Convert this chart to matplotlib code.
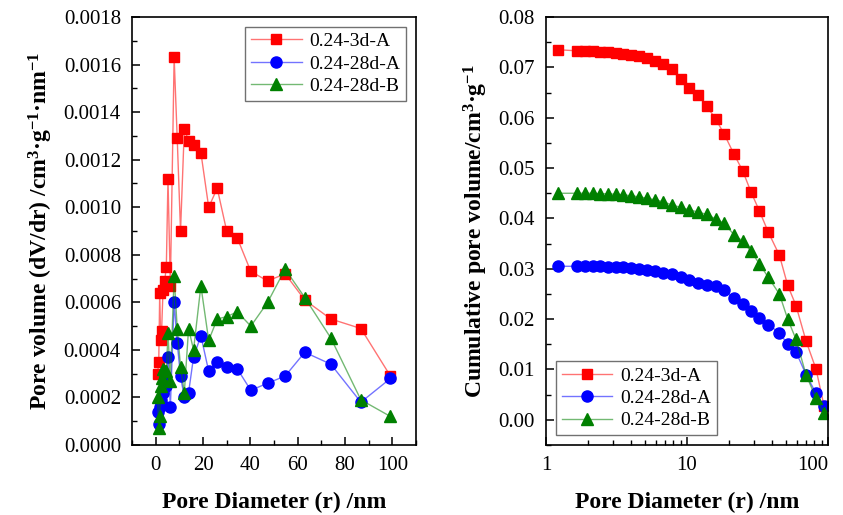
import matplotlib
matplotlib.use("Agg")
import matplotlib.pyplot as plt
from matplotlib.ticker import MultipleLocator, FormatStrFormatter, FixedLocator, FixedFormatter

plt.rcParams["font.family"] = ["Liberation Serif", "DejaVu Serif"]
plt.rcParams["mathtext.fontset"] = "custom"
plt.rcParams["mathtext.rm"] = "Liberation Serif:bold"
plt.rcParams["mathtext.default"] = "rm"

# ---- left: pore size distribution dV/dr ----
r_dist = [0.8, 1.3, 1.7, 2.1, 2.5, 3.1, 3.8, 4.5, 5.2, 6.2, 7.8, 9.1, 10.5, 12.1,
          13.9, 16.0, 19.1, 22.4, 26.0, 30.0, 34.5, 40.2, 47.3, 54.7, 63.0, 74.0,
          86.7, 99.2]
dv_3dA = [0.00030, 0.00035, 0.00064, 0.00044, 0.00048, 0.00065, 0.00069, 0.00075,
          0.00112, 0.00067, 0.00163, 0.00129, 0.00090, 0.00133, 0.00128, 0.00126,
          0.00123, 0.00100, 0.00108, 0.00090, 0.00087, 0.00073, 0.00069, 0.00072,
          0.00061, 0.00053, 0.00049, 0.00029]
dv_28dA = [0.00014, 0.00009, 0.00016, 0.00019, 0.00017, 0.00022, 0.00027, 0.00025,
           0.00037, 0.00016, 0.00060, 0.00043, 0.00029, 0.00020, 0.00022, 0.00037,
           0.00046, 0.00031, 0.00035, 0.00033, 0.00032, 0.00023, 0.00026, 0.00029,
           0.00039, 0.00034, 0.00018, 0.00028]
dv_28dB = [0.00020, 0.00007, 0.00012, 0.00025, 0.00028, 0.00032, 0.00031, 0.00031,
           0.00047, 0.00027, 0.00071, 0.00049, 0.00033, 0.00022, 0.00049, 0.00040,
           0.00067, 0.00044, 0.00053, 0.00054, 0.00056, 0.00050, 0.00060, 0.00074,
           0.00062, 0.00045, 0.00019, 0.00012]

# ---- right: cumulative pore volume ----
r_cum = [1.22, 1.65, 1.89, 2.14, 2.42, 2.74, 3.12, 3.54, 4.01, 4.57, 5.23, 5.93,
         6.80, 7.79, 9.02, 10.4, 11.9, 13.8, 16.0, 18.4, 21.5, 24.8, 28.4, 32.6,
         37.7, 45.2, 51.8, 59.3, 69.8, 82.2, 93.7]
cum_3dA = [0.0735, 0.0733, 0.0733, 0.0732, 0.0731, 0.0731, 0.0729, 0.0727, 0.0725,
           0.0723, 0.0719, 0.0713, 0.0707, 0.0697, 0.0677, 0.0660, 0.0645, 0.0623,
           0.0597, 0.0567, 0.0528, 0.0495, 0.0453, 0.0415, 0.0373, 0.0327, 0.0267,
           0.0227, 0.0157, 0.0101, 0.0028]
cum_28dA = [0.0305, 0.0305, 0.0305, 0.0305, 0.0305, 0.0304, 0.0303, 0.0303, 0.0302,
            0.0300, 0.0298, 0.0295, 0.0291, 0.0289, 0.0283, 0.0277, 0.0272, 0.0268,
            0.0265, 0.0257, 0.0242, 0.0230, 0.0217, 0.0203, 0.0189, 0.0173, 0.0150,
            0.0135, 0.0090, 0.0053, 0.0027]
cum_28dB = [0.0450, 0.0450, 0.0450, 0.0450, 0.0449, 0.0449, 0.0448, 0.0447, 0.0445,
            0.0443, 0.0440, 0.0437, 0.0433, 0.0427, 0.0422, 0.0417, 0.0413, 0.0408,
            0.0399, 0.0390, 0.0368, 0.0355, 0.0335, 0.0310, 0.0283, 0.0250, 0.0200,
            0.0160, 0.0090, 0.0043, 0.0013]

labels = ["0.24-3d-A", "0.24-28d-A", "0.24-28d-B"]
styles = [("s", (1, 0, 0), 7), ("o", (0, 0, 1), 8), ("^", (0, 0.5, 0), 8)]

fig = plt.figure(figsize=(8.43, 5.15), dpi=100)
ax1 = fig.add_axes([0.1566, 0.1359, 0.3369, 0.831])
ax2 = fig.add_axes([0.6477, 0.1359, 0.3345, 0.831])


def draw(ax, x, ys):
    for y, lab, (mk, col, ms) in zip(ys, labels, styles):
        ax.plot(x, y, marker=mk, ms=ms, color=col + (0.55,), lw=1.0,
                mfc=col, mec=col, label=lab)


draw(ax1, r_dist, [dv_3dA, dv_28dA, dv_28dB])
draw(ax2, r_cum, [cum_3dA, cum_28dA, cum_28dB])

lab_font = dict(fontsize=17, fontweight="bold")
ax1.set_xlim(-10, 110)
ax1.set_ylim(0, 0.0018)
ax1.xaxis.set_major_locator(MultipleLocator(20))
ax1.xaxis.set_minor_locator(MultipleLocator(10))
ax1.yaxis.set_major_locator(MultipleLocator(0.0002))
ax1.yaxis.set_minor_locator(MultipleLocator(0.0001))
ax1.yaxis.set_major_formatter(FormatStrFormatter("%.4f"))
ax1.set_xlabel("Pore Diameter (r) /nm", labelpad=12, **lab_font)
ax1.set_ylabel(r"Pore volume (dV/dr) /cm$^{3}$·g$^{-1}$·nm$^{-1}$", labelpad=6, **lab_font)

ax2.set_xscale("log")
ax2.set_xlim(1, 100)
ax2.set_ylim(-0.005, 0.08)
ax2.xaxis.set_major_locator(FixedLocator([1, 10, 100]))
ax2.xaxis.set_major_formatter(FixedFormatter(["1", "10", "100"]))
ax2.yaxis.set_major_locator(MultipleLocator(0.01))
ax2.yaxis.set_minor_locator(MultipleLocator(0.005))
ax2.yaxis.set_major_formatter(FormatStrFormatter("%.2f"))
ax2.set_xlabel("Pore Diameter (r) /nm", labelpad=12, **lab_font)
ax2.set_ylabel(r"Cumulative pore volume/cm$^{3}$·g$^{-1}$", labelpad=6, **lab_font)

for ax in (ax1, ax2):
    ax.tick_params(which="both", direction="in", labelsize=15, top=False, right=False)
    ax.tick_params(which="major", length=6, width=1.1, pad=8)
    ax.tick_params(which="minor", length=3.5, width=1.0)
    for s in ax.spines.values():
        s.set_linewidth(1.2)

# keep the "100" label inside the canvas
ax2.get_xticklabels()[-1].set_horizontalalignment("right")
ax2.get_xticklabels()[-1].set_x(100)

leg_kw = dict(fontsize=14, frameon=True, fancybox=False, edgecolor="0.3",
              handlelength=2.6, borderpad=0.3, labelspacing=0.25, handletextpad=0.4)
ax1.legend(loc="upper right", **leg_kw).get_frame().set_linewidth(1.0)
ax2.legend(loc="lower left", **leg_kw).get_frame().set_linewidth(1.0)

fig.savefig("out.png", dpi=100)
